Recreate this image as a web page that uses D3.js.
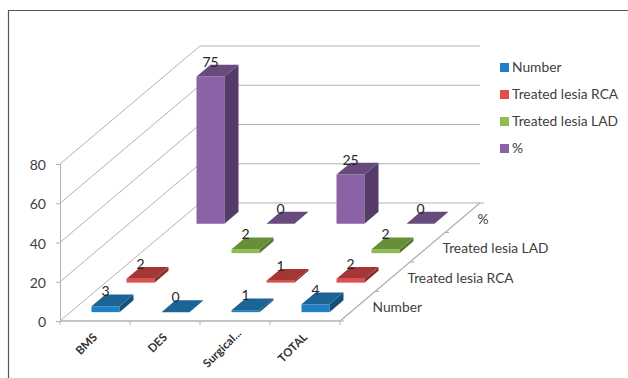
<!DOCTYPE html>
<html>
<head>
<meta charset="utf-8">
<script src="https://cdn.jsdelivr.net/npm/d3@7"></script>
<style>
  html, body { margin: 0; padding: 0; background: #fff; }
  svg { display: block; }
  text { font-family: Lato, "Open Sans", sans-serif; fill: #404040; }
</style>
</head>
<body>
<svg id="chart" width="628" height="378"></svg>
<script>
const categories = ["BMS", "DES", "Surgical...", "TOTAL"];
const seriesNames = ["Number", "Treated lesia RCA", "Treated lesia LAD", "%"];
const numberValues = [3, 0, 1, 4];
const rcaValues = [2, null, 1, 2];
const ladValues = [null, 2, null, 2];
const percentValues = [75, 0, 25, 0];
const valueTicks = [0, 20, 40, 60, 80];

const seriesValues = [numberValues, rcaValues, ladValues, percentValues];
const palette = [
  { front: "#2080c4", top: "#1c6396", side: "#174f7a" },
  { front: "#e04f4b", top: "#a43735", side: "#8a2e2c" },
  { front: "#8cbd4f", top: "#678f39", side: "#567830" },
  { front: "#8b62a6", top: "#674b7d", side: "#553b68" }
];

const svg = d3.select("#chart");

// Oblique projection: category runs right, series runs into the page, value runs up.
const originX = 60, originY = 321;
const catX = d3.scaleLinear().domain([0, 4]).range([0, 280]);
const depthX = d3.scaleLinear().domain([0, 4]).range([0, 140]);
const depthY = d3.scaleLinear().domain([0, 4]).range([0, -118]);
const valueAxisScale = d3.scaleLinear().domain([0, 80]).range([originY, 164]);
const heightOf = v => originY - valueAxisScale(v);
const project = (u, d, v) => [
  originX + catX(u) + depthX(d),
  originY + depthY(d) - heightOf(v)
];
const line = d3.line();
const gridColor = "#b2b2b2";

// Chart frame
svg.append("path")
  .attr("d", "M8.5,378V10.5H628")
  .attr("fill", "none").attr("stroke", "#555").attr("stroke-width", 1.2);

// Side wall and back wall gridlines
const grid = svg.append("g").attr("fill", "none").attr("stroke", gridColor);
valueTicks.forEach(t => {
  grid.append("path")
    .attr("d", line([project(0, 0, t), project(0, 4, t), project(4, 4, t)]))
    .attr("stroke-width", 1);
});
// Floor front edge and right edge
grid.append("path")
  .attr("d", line([project(0, 0, 0), project(4, 0, 0), project(4, 4, 0)]))
  .attr("stroke-width", 1.3);

// Value axis
const yAxis = svg.append("g")
  .attr("transform", `translate(${originX},0)`)
  .call(d3.axisLeft(valueAxisScale).tickValues(valueTicks).tickSize(4).tickPadding(10));
yAxis.select(".domain").attr("stroke", gridColor);
yAxis.selectAll(".tick line").attr("stroke", gridColor);
yAxis.selectAll("text").attr("font-size", 14).attr("dy", "0.4em").style("fill", "#404040");

// Category axis: ticks sit on band edges, labels are turned 45 degrees
const catBand = d3.scaleBand().domain(categories)
  .range([originX, originX + catX(4)]);
const xAxis = svg.append("g")
  .attr("transform", `translate(0,${originY})`)
  .call(d3.axisBottom(catBand).tickSize(0));
xAxis.select(".domain").remove();
xAxis.selectAll(".tick text")
  .attr("font-size", 11.5)
  .attr("font-weight", 700)
  .attr("text-anchor", "end")
  .attr("dy", 0)
  .attr("y", 0)
  // the truncated label sits a little further along its slant
  .attr("transform", d => d.endsWith("...")
    ? "translate(7,13) rotate(-45)"
    : "translate(3,17) rotate(-45)")
  .style("fill", "#303030");
svg.append("g").selectAll("line")
  .data(d3.range(categories.length + 1))
  .join("line")
  .attr("x1", d => project(d, 0, 0)[0]).attr("x2", d => project(d, 0, 0)[0])
  .attr("y1", originY).attr("y2", originY + 4)
  .attr("stroke", gridColor);

// Depth axis ticks and series labels
svg.append("g").selectAll("line")
  .data(d3.range(seriesNames.length + 1))
  .join("line")
  .attr("x1", d => project(4, d, 0)[0]).attr("x2", d => project(4, d, 0)[0] + 4)
  .attr("y1", d => project(4, d, 0)[1]).attr("y2", d => project(4, d, 0)[1])
  .attr("stroke", gridColor);
svg.append("g").selectAll("text")
  .data(seriesNames)
  .join("text")
  .attr("x", (d, j) => project(4, j + 0.5, 0)[0] + 15)
  .attr("y", (d, j) => project(4, j + 0.5, 0)[1] + 6)
  .attr("font-size", 13.8)
  .text(d => d);

// Bars, painted from the back row forwards
const barLow = 0.3, barHigh = 0.7;
const bars = svg.append("g");
d3.range(seriesNames.length).reverse().forEach(j => {
  categories.forEach((c, i) => {
    const v = seriesValues[j][i];
    if (v === null) return;
    const u0 = i + barLow, u1 = i + barHigh, d0 = j + barLow, d1 = j + barHigh;
    const col = palette[j];
    const g = bars.append("g");
    g.append("path").attr("fill", col.front)
      .attr("d", line([project(u0, d0, 0), project(u1, d0, 0), project(u1, d0, v), project(u0, d0, v)]) + "Z");
    g.append("path").attr("fill", col.side)
      .attr("d", line([project(u1, d0, 0), project(u1, d1, 0), project(u1, d1, v), project(u1, d0, v)]) + "Z");
    g.append("path").attr("fill", col.top)
      .attr("d", line([project(u0, d0, v), project(u1, d0, v), project(u1, d1, v), project(u0, d1, v)]) + "Z");
  });
});

// Value labels, placed after all bars so none is hidden
const labels = svg.append("g");
d3.range(seriesNames.length).forEach(j => {
  categories.forEach((c, i) => {
    const v = seriesValues[j][i];
    if (v === null) return;
    labels.append("text")
      .attr("x", project(i + 0.5, j + barLow, v)[0])
      .attr("y", project(i + 0.5, j + barHigh, v)[1] + 2)
      .attr("text-anchor", "middle")
      .attr("font-size", 14)
      .style("fill", "#262626")
      .text(v);
  });
});

// Legend
const legend = svg.append("g").selectAll("g")
  .data(seriesNames)
  .join("g")
  .attr("transform", (d, j) => `translate(500,${63 + j * 27})`);
legend.append("rect")
  .attr("width", 9).attr("height", 9)
  .attr("fill", (d, j) => palette[j].front);
legend.append("text")
  .attr("x", 12).attr("y", 9)
  .attr("font-size", 13.8)
  .text(d => d);
</script>
</body>
</html>
